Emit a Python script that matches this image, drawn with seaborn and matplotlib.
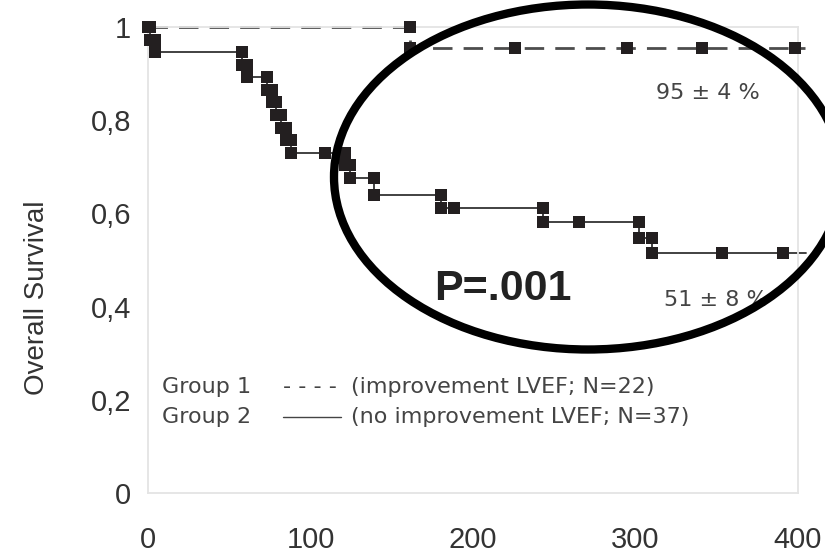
import matplotlib
matplotlib.use("Agg")
import matplotlib.pyplot as plt
from matplotlib.patches import Ellipse
import pandas as pd
import seaborn as sns

# Kaplan-Meier estimates (days of follow-up)
g1_event_days = [161]
g1_survival = [0.955]
g1_censor_days = [226, 295, 341, 398]
g1_end_day = 404

g2_event_days = [1, 4, 58, 61, 73, 76, 79, 82, 85, 88, 121, 124, 139, 180, 243, 302, 310]
g2_survival = [0.973, 0.946, 0.919, 0.892, 0.865, 0.838, 0.811, 0.784, 0.757,
               0.730, 0.703, 0.676, 0.640, 0.612, 0.582, 0.547, 0.515]
g2_censor_days = [109, 188, 265, 353, 391]
g2_end_day = 405

x_ticks = [0, 100, 200, 300, 400]
y_ticks = [0, 0.2, 0.4, 0.6, 0.8, 1]
y_tick_labels = ["0", "0,2", "0,4", "0,6", "0,8", "1"]

g1_label = "95 ± 4 %"
g2_label = "51 ± 8 %"
p_label = "P=.001"


def km_path(days, surv, end):
    xs, ys, prev = [0], [1.0], 1.0
    for d, s in zip(days, surv):
        xs += [d, d]
        ys += [prev, s]
        prev = s
    xs.append(end)
    ys.append(prev)
    return xs, ys


def surv_at(t, days, surv):
    val = 1.0
    for d, s in zip(days, surv):
        if d <= t:
            val = s
    return val


sns.set_theme(style="white")
plt.rcParams["font.family"] = ["Liberation Sans", "DejaVu Sans"]

fig = plt.figure(figsize=(8.25, 5.55), dpi=100)
ax = fig.add_axes([148 / 825, 62 / 555, 650 / 825, 466 / 555])

mark_color = "#231f20"
groups = [
    (g1_event_days, g1_survival, g1_censor_days, g1_end_day, "#4d4d4d", (7, 4), 2.0),
    (g2_event_days, g2_survival, g2_censor_days, g2_end_day, "#333333", None, 1.3),
]
for days, surv, cens, end, col, dash, lw in groups:
    xs, ys = km_path(days, surv, end)
    path = pd.DataFrame({"day": xs, "s": ys})
    sns.lineplot(data=path, x="day", y="s", sort=False, estimator=None,
                 color=col, linewidth=lw, ax=ax)
    ln = ax.lines[-1]
    if dash:
        ln.set_dashes(dash)
    ln.set_clip_on(False)
    pts = pd.DataFrame({
        "day": xs[:-1] + cens,
        "s": ys[:-1] + [surv_at(c, days, surv) for c in cens],
    })
    sns.scatterplot(data=pts, x="day", y="s", marker="s", s=80,
                    color=mark_color, linewidth=0, ax=ax, zorder=5)
    ax.collections[-1].set_clip_on(False)

ax.set_xlim(0, 400)
ax.set_ylim(0, 1)
ax.set_xticks(x_ticks)
ax.set_xticklabels([str(v) for v in x_ticks])
ax.set_yticks(y_ticks)
ax.set_yticklabels(y_tick_labels)
ax.set_xlabel("")
ax.set_ylabel("Overall Survival", fontsize=20, color="#333333")
ax.yaxis.set_label_coords(-0.15, 0.42)

frame = "#e4e4e4"
for sp in ax.spines.values():
    sp.set_color(frame)
    sp.set_linewidth(1.3)
ax.tick_params(axis="both", direction="inout", length=14, width=1.3,
               color=frame, labelcolor="#333333", labelsize=21)
ax.tick_params(axis="x", pad=17)
ax.tick_params(axis="y", pad=5)
ax.grid(False)

txt_kw = dict(family=["DejaVu Sans"], color="#444444", ha="center", va="center")
ax.text(344.6, 0.858, g1_label, fontsize=16, **txt_kw)
ax.text(349.5, 0.414, g2_label, fontsize=16, **txt_kw)
ax.text(218.5, 0.438, p_label, fontsize=31, fontweight="bold",
        color="#222222", ha="center", va="center")

leg_kw = dict(family=["DejaVu Sans"], color="#444444", fontsize=16, va="center")
ax.text(8.6, 0.227, "Group 1", **leg_kw)
ax.text(8.6, 0.163, "Group 2", **leg_kw)
ax.text(83, 0.227, "- - - -", **leg_kw)
ax.plot([83, 119], [0.163, 0.163], color="#444444", linewidth=1.0)
ax.text(125, 0.227, "(improvement LVEF; N=22)", **leg_kw)
ax.text(125, 0.163, "(no improvement LVEF; N=37)", **leg_kw)

fig.add_artist(Ellipse((588 / 825, 1 - 177 / 555), 508 / 825, 345 / 555,
                       transform=fig.transFigure, fill=False,
                       edgecolor="black", linewidth=6, zorder=10))

fig.savefig("out.png", dpi=100)
